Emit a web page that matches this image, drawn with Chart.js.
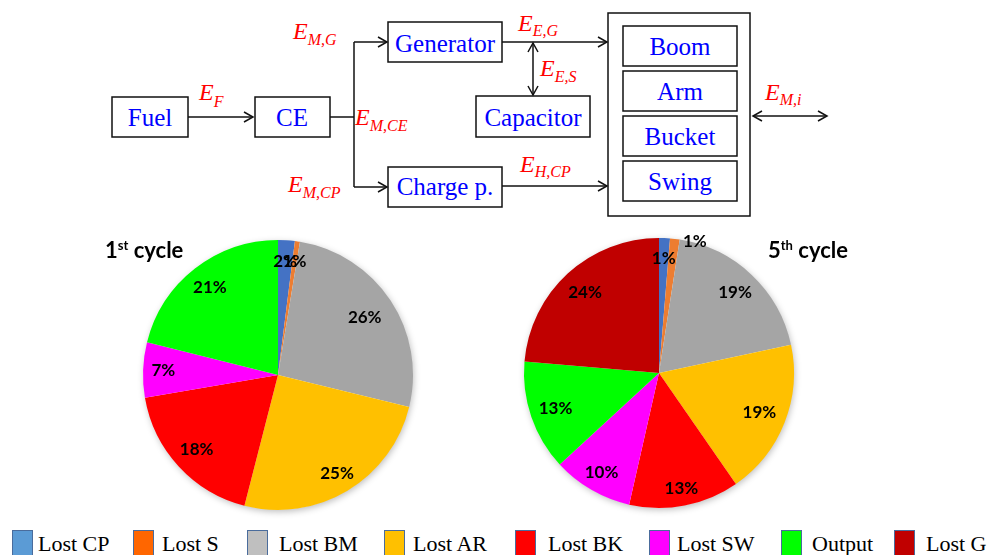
<!DOCTYPE html>
<html>
<head>
<meta charset="utf-8">
<script src="https://cdn.jsdelivr.net/npm/chart.js@4/dist/chart.umd.min.js"></script>
<style>
  html, body { margin: 0; padding: 0; background: #fff; }
  #wrap { position: relative; width: 987px; height: 555px; overflow: hidden; background: #fff; }
  svg.diagram { position: absolute; left: 0; top: 0; }
  .ptitle { position: absolute; font-family: Lato, "Open Sans", sans-serif; font-weight: 700; font-size: 22px; line-height: 24px; color: #000; white-space: nowrap; }
  .ptitle sup { font-size: 13px; position: relative; top: -8px; vertical-align: baseline; line-height: 0; }
  canvas { position: absolute; }
  .lg-box { position: absolute; width: 21px; height: 26px; border: 1.5px solid #4a6c9c; box-sizing: border-box; }
  .lg-txt { position: absolute; font-family: "Liberation Serif", "Times New Roman", serif; font-size: 22px; line-height: 26px; color: #000; white-space: nowrap; }
</style>
</head>
<body>
<div id="wrap">
<svg class="diagram" width="987" height="230" xmlns="http://www.w3.org/2000/svg">
  <g fill="none" stroke="#111" stroke-width="1.5">
    <rect x="112" y="97" width="76" height="40"/>
    <rect x="255" y="97" width="75" height="40"/>
    <rect x="388" y="22" width="114" height="40"/>
    <rect x="476" y="96" width="114" height="41"/>
    <rect x="388" y="167" width="114" height="40"/>
    <rect x="608" y="13" width="142" height="203"/>
    <rect x="623" y="26" width="114" height="40"/>
    <rect x="623" y="71" width="114" height="40"/>
    <rect x="623" y="116" width="114" height="40"/>
    <rect x="623" y="161" width="114" height="40"/>
    <line x1="188" y1="117" x2="253" y2="117"/>
    <path d="M244,112 L253,117 L244,122"/>
    <line x1="330" y1="117" x2="354" y2="117"/>
    <line x1="354" y1="42" x2="354" y2="187"/>
    <line x1="354" y1="42" x2="387" y2="42"/>
    <path d="M378,37 L387,42 L378,47"/>
    <line x1="354" y1="187" x2="387" y2="187"/>
    <path d="M378,182 L387,187 L378,192"/>
    <line x1="502" y1="42" x2="607" y2="42"/>
    <path d="M598,37 L607,42 L598,47"/>
    <line x1="502" y1="186" x2="607" y2="186"/>
    <path d="M598,181 L607,186 L598,191"/>
    <line x1="533" y1="43" x2="533" y2="95"/>
    <path d="M528,52 L533,43 L538,52"/>
    <path d="M528,86 L533,95 L538,86"/>
    <line x1="753" y1="116" x2="827" y2="116"/>
    <path d="M762,111 L753,116 L762,121"/>
    <path d="M818,111 L827,116 L818,121"/>
  </g>
  <g font-family="Liberation Serif, Times New Roman, serif" font-size="25" fill="#0000ff" text-anchor="middle">
    <text x="150" y="126">Fuel</text>
    <text x="292" y="126">CE</text>
    <text x="445" y="52">Generator</text>
    <text x="533" y="126">Capacitor</text>
    <text x="445" y="195">Charge p.</text>
    <text x="680" y="55">Boom</text>
    <text x="680" y="100">Arm</text>
    <text x="680" y="145">Bucket</text>
    <text x="680" y="190">Swing</text>
  </g>
  <g font-family="Liberation Serif, Times New Roman, serif" font-style="italic" font-size="24" fill="#ff0000">
    <text x="199" y="100">E<tspan font-size="16" dy="7">F</tspan></text>
    <text x="293" y="39">E<tspan font-size="16" dy="6">M,G</tspan></text>
    <text x="355" y="125">E<tspan font-size="16" dy="6">M,CE</tspan></text>
    <text x="288" y="192">E<tspan font-size="16" dy="6">M,CP</tspan></text>
    <text x="518" y="31">E<tspan font-size="16" dy="5">E,G</tspan></text>
    <text x="540" y="76">E<tspan font-size="16" dy="6">E,S</tspan></text>
    <text x="520" y="172">E<tspan font-size="16" dy="5">H,CP</tspan></text>
    <text x="765" y="100">E<tspan font-size="16" dy="5">M,i</tspan></text>
  </g>
</svg>

<canvas id="pie1" width="290" height="290" style="left:133px;top:230px"></canvas>
<canvas id="pie2" width="290" height="290" style="left:514px;top:228px"></canvas>
<div id="t1" class="ptitle" style="left:105px;top:238px"></div>
<div id="t2" class="ptitle" style="left:768px;top:238px"></div>
<div id="legend"></div>
</div>

<script>
// ---- data ----
const categories = ['Lost CP', 'Lost S', 'Lost BM', 'Lost AR', 'Lost BK', 'Lost SW', 'Output', 'Lost G'];
const cycle1 = [2.0, 0.6, 26.2, 25.2, 18.3, 6.6, 21.1, 0];
const cycle5 = [1.3, 1.15, 19.2, 18.7, 13.2, 9.6, 13.2, 23.65];
const pieTitles = ['1st cycle', '5th cycle'];

// ---- styles ----
const sliceColors = ['#4472C4', '#ED7D31', '#A5A5A5', '#FFC000', '#FF0000', '#FF00FF', '#00FF00', '#C00000'];
const legendColors = ['#5B9BD5', '#FF6600', '#BFBFBF', '#FFC000', '#FF0000', '#FF00FF', '#00FF00', '#C00000'];
const layout = {
  legendBoxX: [12, 133, 247, 384, 515, 649, 781, 894],
  legendTextX: [38, 162, 279, 413, 548, 677, 812, 926],
  legendTop: 530,
  labelRadius1: [0.84, 0.85, 0.77, 0.85, 0.82, 0.85, 0.82, 0.8],
  labelRadius2: [0.85, 1.0, 0.82, 0.8, 0.87, 0.85, 0.81, 0.81],
  labelShift2: {1: [20, 3]}
};

function titleHTML(t) {
  return t.replace(/^(\d+)(st|nd|rd|th)/, '$1<sup>$2</sup>');
}
document.getElementById('t1').innerHTML = titleHTML(pieTitles[0]);
document.getElementById('t2').innerHTML = titleHTML(pieTitles[1]);

const lg = document.getElementById('legend');
categories.forEach((c, i) => {
  const b = document.createElement('div');
  b.className = 'lg-box';
  b.style.left = layout.legendBoxX[i] + 'px';
  b.style.top = layout.legendTop + 'px';
  b.style.background = legendColors[i];
  lg.appendChild(b);
  const t = document.createElement('div');
  t.className = 'lg-txt';
  t.style.left = layout.legendTextX[i] + 'px';
  t.style.top = (layout.legendTop + 1) + 'px';
  t.textContent = c;
  lg.appendChild(t);
});

const pieShadow = {
  id: 'pieShadow',
  beforeDatasetsDraw(chart) {
    const meta = chart.getDatasetMeta(0);
    if (!meta.data.length) return;
    const a = meta.data[0];
    const ctx = chart.ctx;
    ctx.save();
    ctx.shadowColor = 'rgba(0,0,0,0.28)';
    ctx.shadowBlur = 7;
    ctx.shadowOffsetX = 1;
    ctx.shadowOffsetY = 2;
    ctx.fillStyle = '#fff';
    ctx.beginPath();
    ctx.arc(a.x, a.y, a.outerRadius - 0.5, 0, Math.PI * 2);
    ctx.fill();
    ctx.restore();
  }
};

const sliceLabels = {
  id: 'sliceLabels',
  afterDatasetsDraw(chart, args, opts) {
    const ctx = chart.ctx;
    const ds = chart.data.datasets[0];
    const total = ds.data.reduce((s, v) => s + v, 0);
    const meta = chart.getDatasetMeta(0);
    ctx.save();
    ctx.font = 'bold 17px Lato, "Open Sans", sans-serif';
    ctx.fillStyle = '#000';
    ctx.textAlign = 'center';
    ctx.textBaseline = 'middle';
    meta.data.forEach((arc, i) => {
      const v = ds.data[i];
      if (!v) return;
      const mid = (arc.startAngle + arc.endAngle) / 2;
      const f = (opts.radius && opts.radius[i]) || 0.82;
      let x = arc.x + Math.cos(mid) * arc.outerRadius * f;
      let y = arc.y + Math.sin(mid) * arc.outerRadius * f;
      const sh = opts.shift && opts.shift[i];
      if (sh) { x += sh[0]; y += sh[1]; }
      ctx.fillText(Math.round(v / total * 100) + '%', x, y);
    });
    ctx.restore();
  }
};

function makePie(id, values, radius, shift) {
  return new Chart(document.getElementById(id), {
    type: 'pie',
    data: {
      labels: categories,
      datasets: [{
        data: values,
        backgroundColor: sliceColors,
        borderWidth: 0,
        hoverOffset: 0,
        offset: 0
      }]
    },
    options: {
      responsive: false,
      animation: false,
      layout: { padding: 10 },
      plugins: {
        legend: { display: false },
        tooltip: { enabled: false },
        title: { display: false },
        sliceLabels: { radius: radius, shift: shift }
      },
      events: []
    },
    plugins: [pieShadow, sliceLabels]
  });
}

makePie('pie1', cycle1, layout.labelRadius1, {});
makePie('pie2', cycle5, layout.labelRadius2, layout.labelShift2);
</script>
</body>
</html>
